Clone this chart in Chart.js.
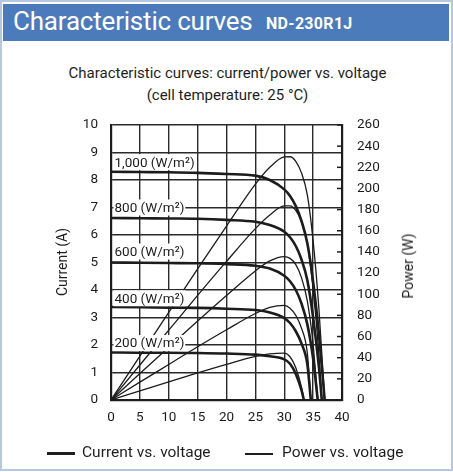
<!DOCTYPE html>
<html><head><meta charset="utf-8">
<script src="https://cdn.jsdelivr.net/npm/chart.js@4"></script>
<style>
html,body{margin:0;padding:0;background:#fff;}
#wrap{position:relative;width:453px;height:472px;overflow:hidden;font-family:"Liberation Sans Narrow","Roboto",sans-serif;color:#1e1e1e;}
#frame{position:absolute;left:0;top:0;width:449px;height:467px;border:2px solid #b4c8e2;}
#hdr{position:absolute;left:3px;top:4px;width:446px;height:37px;background:#4c7bbb;color:#fff;white-space:nowrap;}
#hdr .big{position:absolute;left:10px;top:2px;font-size:26px;letter-spacing:-0.2px;}
#hdr .small{position:absolute;left:263px;top:10px;font-size:16px;font-weight:bold;letter-spacing:0.3px;}
.ttl{position:absolute;left:0;width:455px;text-align:center;font-size:15px;}
.rot{position:absolute;transform:translate(-50%,-50%) rotate(-90deg);white-space:nowrap;font-size:14px;}
#chart{position:absolute;left:0;top:0;}
.leg{position:absolute;font-size:15.5px;white-space:nowrap;}
.lline{position:absolute;background:#1e1e1e;}
</style></head>
<body>
<div id="wrap">
  <div id="frame"></div>
  <div id="hdr"><span class="big">Characteristic curves</span><span class="small">ND-230R1J</span></div>
  <div class="ttl" style="top:64px;">Characteristic curves: current/power vs. voltage</div>
  <div class="ttl" style="top:86px;">(cell temperature: 25 °C)</div>
  <canvas id="chart" width="453" height="472"></canvas>
  <div class="rot" style="left:62px;top:262px;">Current (A)</div>
  <div class="rot" style="left:408px;top:266px;">Power (W)</div>
  <div class="lline" style="left:47px;top:452px;width:28px;height:3px;"></div>
  <div class="leg" style="left:82px;top:443px;">Current vs. voltage</div>
  <div class="lline" style="left:245px;top:453px;width:28px;height:1.5px;"></div>
  <div class="leg" style="left:282px;top:443px;">Power vs. voltage</div>
</div>
<script>
// Voltage sample points (V)
const voltage = [0, 5, 10, 15, 20, 25, 27.5, 30, 31, 32, 33, 34, 35, 36];
// Irradiance labels
const irradianceLabels = ['1,000 (W/m²)', '800 (W/m²)', '600 (W/m²)', '400 (W/m²)', '200 (W/m²)'];
// Open-circuit voltage per irradiance (V)
const openCircuitV = [37.0, 36.5, 35.8, 34.6, 33.4];
// Current (A) read at the voltage points
const current1000 = [8.30, 8.29, 8.28, 8.26, 8.22, 8.16, 8.00, 7.66, 7.42, 7.05, 6.50, 5.70, 4.30, 2.40];
const current800  = [6.62, 6.61, 6.60, 6.59, 6.55, 6.48, 6.36, 6.12, 5.92, 5.60, 5.10, 4.35, 3.00, 1.20];
const current600  = [5.00, 4.99, 4.98, 4.97, 4.94, 4.88, 4.78, 4.52, 4.32, 4.00, 3.50, 2.75, 1.50];
const current400  = [3.38, 3.37, 3.36, 3.35, 3.32, 3.27, 3.18, 2.98, 2.80, 2.50, 2.05, 1.30];
const current200  = [1.73, 1.72, 1.72, 1.71, 1.69, 1.65, 1.59, 1.48, 1.32, 0.95, 0.35];
// Power (W) read at the voltage points
const power1000 = [0, 41.5, 82.8, 123.9, 164.4, 204.0, 220.0, 229.8, 230.0, 225.6, 214.5, 193.8, 150.5, 86.4];
const power800  = [0, 33.1, 66.0, 98.9, 131.0, 162.0, 174.9, 183.6, 183.5, 179.2, 168.3, 147.9, 105.0, 43.2];
const power600  = [0, 25.0, 49.8, 74.6, 98.8, 122.0, 131.5, 135.6, 133.9, 128.0, 115.5, 93.5, 52.5];
const power400  = [0, 16.9, 33.6, 50.3, 66.4, 81.8, 87.5, 89.4, 86.8, 80.0, 67.7, 44.2];
const power200  = [0, 8.6, 17.2, 25.7, 33.8, 41.3, 43.7, 44.4, 40.9, 30.4, 11.6];
// Label anchor currents (A) for irradiance labels
const labelCurrent = [8.65, 7.0, 5.4, 3.7, 2.07];
// Axis ticks
const xTicks = [0, 5, 10, 15, 20, 25, 30, 35, 40];
const currentMax = 10, powerMax = 260;

const currents = [current1000, current800, current600, current400, current200];
const powers = [power1000, power800, power600, power400, power200];

function toPoints(vals, voc) {
  const pts = vals.map((v, i) => ({x: voltage[i], y: v}));
  pts.push({x: voc, y: 0});
  return pts;
}

const ink = '#1c1c1c';
const datasets = [];
currents.forEach((c, i) => datasets.push({
  label: 'Current ' + irradianceLabels[i], data: toPoints(c, openCircuitV[i]), yAxisID: 'y',
  borderColor: ink, borderWidth: 2.6, pointRadius: 0, fill: false, cubicInterpolationMode: 'monotone'
}));
powers.forEach((p, i) => datasets.push({
  label: 'Power ' + irradianceLabels[i], data: toPoints(p, openCircuitV[i]), yAxisID: 'y1',
  borderColor: ink, borderWidth: 1.3, pointRadius: 0, fill: false, cubicInterpolationMode: 'monotone'
}));

const tickFont = {family: "'Liberation Sans Narrow', Roboto, sans-serif", size: 13.5};

const overlay = {
  id: 'overlay',
  afterDatasetsDraw(chart) {
    const {ctx, chartArea, scales} = chart;
    ctx.save();
    // inward ticks on the right (power) axis
    ctx.strokeStyle = ink; ctx.lineWidth = 1.5;
    scales.y1.ticks.forEach(t => {
      const y = scales.y1.getPixelForValue(t.value);
      ctx.beginPath(); ctx.moveTo(chartArea.right - 5, y); ctx.lineTo(chartArea.right, y); ctx.stroke();
    });
    // irradiance labels
    ctx.font = "13.5px 'Liberation Sans Narrow', Roboto, sans-serif";
    ctx.textBaseline = 'middle';
    irradianceLabels.forEach((txt, i) => {
      const x = scales.x.getPixelForValue(0.6);
      const y = scales.y.getPixelForValue(labelCurrent[i]);
      const w = ctx.measureText(txt).width;
      ctx.fillStyle = '#fff';
      ctx.fillRect(x - 1, y - 8, w + 2, 16);
      ctx.fillStyle = ink;
      ctx.fillText(txt, x, y + 1);
    });
    ctx.restore();
  }
};

new Chart(document.getElementById('chart'), {
  type: 'line',
  data: {datasets},
  plugins: [overlay],
  options: {
    responsive: false, animation: false,
    layout: {padding: {top: 125, left: 0, right: 0, bottom: 0}},
    plugins: {legend: {display: false}, tooltip: {enabled: false}},
    scales: {
      x: {
        type: 'linear', min: 0, max: 40,
        afterBuildTicks: s => { s.ticks = xTicks.map(v => ({value: v})); },
        afterFit: s => { s.height = 72; },
        grid: {color: '#2a2a2a', lineWidth: 1.4, drawTicks: false},
        border: {color: ink, width: 2.2},
        ticks: {font: tickFont, color: ink, padding: 10, maxRotation: 0}
      },
      y: {
        position: 'left', min: 0, max: currentMax,
        ticks: {stepSize: 1, font: tickFont, color: ink, padding: 13},
        afterFit: s => { s.width = 111; },
        grid: {color: '#2a2a2a', lineWidth: 1.4, drawTicks: false},
        border: {color: ink, width: 2.2}
      },
      y1: {
        position: 'right', min: 0, max: powerMax,
        ticks: {stepSize: 20, font: tickFont, color: ink, padding: 15},
        afterFit: s => { s.width = 111; },
        grid: {drawOnChartArea: false, drawTicks: false},
        border: {color: ink, width: 2.2}
      }
    }
  }
});
</script>
</body></html>
